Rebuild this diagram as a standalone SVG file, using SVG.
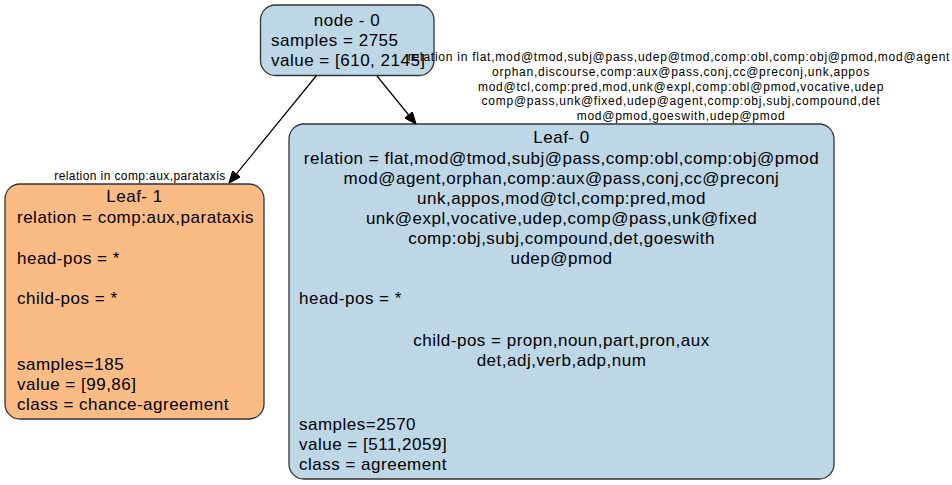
<svg xmlns="http://www.w3.org/2000/svg" width="952" height="485" viewBox="0 0 952 485">
<style>
.box{stroke:#333;stroke-width:1.3}
.blue{fill:#bdd7e7}
.orange{fill:#fbbb84}
.t{font-family:"Liberation Sans",Arial,sans-serif;font-size:17px;letter-spacing:0.5px;fill:#000}
.c{text-anchor:middle}
.e{font-family:"Liberation Sans",Arial,sans-serif;font-size:12px;letter-spacing:0.4px;fill:#000;text-anchor:middle}
.w{letter-spacing:0.75px}
.edge{stroke:#000;stroke-width:1.2;fill:none}
</style>
<defs>
<marker id="arr" viewBox="0 0 12 10" refX="12" refY="5" markerWidth="12" markerHeight="10" markerUnits="userSpaceOnUse" orient="auto">
<path d="M0,0 L12,5 L0,10 Z" fill="#000" stroke="#000" stroke-width="1"/>
</marker>
</defs>
<g id="node0">
<rect class="box blue" x="260.5" y="5" width="173.5" height="70.5" rx="15" ry="15"/>
<text class="t c" x="347" y="26">node - 0</text>
<text class="t" x="271" y="46">samples = 2755</text>
<text class="t" x="271" y="66">value = [610, 2145]</text>
</g>
<g id="leaf1">
<rect class="box orange" x="5" y="184" width="259" height="235" rx="15" ry="15"/>
<text class="t c" x="134.5" y="202">Leaf- 1</text>
<text class="t" x="17" y="223">relation = comp:aux,parataxis</text>
<text class="t" x="17" y="264">head-pos = *</text>
<text class="t" x="17" y="304">child-pos = *</text>
<text class="t" x="17" y="370">samples=185</text>
<text class="t" x="17" y="390">value = [99,86]</text>
<text class="t" x="17" y="410">class = chance-agreement</text>
</g>
<g id="leaf0">
<rect class="box blue" x="289" y="124" width="545" height="355" rx="15" ry="15"/>
<text class="t c" x="561.5" y="143">Leaf- 0</text>
<text class="t c" x="561.5" y="164">relation = flat,mod@tmod,subj@pass,comp:obl,comp:obj@pmod</text>
<text class="t c" x="561.5" y="184">mod@agent,orphan,comp:aux@pass,conj,cc@preconj</text>
<text class="t c" x="561.5" y="204">unk,appos,mod@tcl,comp:pred,mod</text>
<text class="t c" x="561.5" y="224">unk@expl,vocative,udep,comp@pass,unk@fixed</text>
<text class="t c" x="561.5" y="244">comp:obj,subj,compound,det,goeswith</text>
<text class="t c" x="561.5" y="264">udep@pmod</text>
<text class="t" x="299" y="304">head-pos = *</text>
<text class="t c" x="561.5" y="346">child-pos = propn,noun,part,pron,aux</text>
<text class="t c" x="561.5" y="366">det,adj,verb,adp,num</text>
<text class="t" x="299" y="430">samples=2570</text>
<text class="t" x="299" y="450">value = [511,2059]</text>
<text class="t" x="299" y="470">class = agreement</text>
</g>
<g id="connectors">
<path class="edge" d="M316.5,75.5 L229,183" marker-end="url(#arr)"/>
<path class="edge" d="M377,76 L416,124" marker-end="url(#arr)"/>
<text class="e" x="140" y="180">relation in comp:aux,parataxis</text>
<text class="e w" x="679" y="61">relation in flat,mod@tmod,subj@pass,udep@tmod,comp:obl,comp:obj@pmod,mod@agent</text>
<text class="e w" x="681" y="76">orphan,discourse,comp:aux@pass,conj,cc@preconj,unk,appos</text>
<text class="e w" x="681" y="91">mod@tcl,comp:pred,mod,unk@expl,comp:obl@pmod,vocative,udep</text>
<text class="e w" x="681" y="105">comp@pass,unk@fixed,udep@agent,comp:obj,subj,compound,det</text>
<text class="e w" x="681" y="120">mod@pmod,goeswith,udep@pmod</text>
</g>
</svg>
